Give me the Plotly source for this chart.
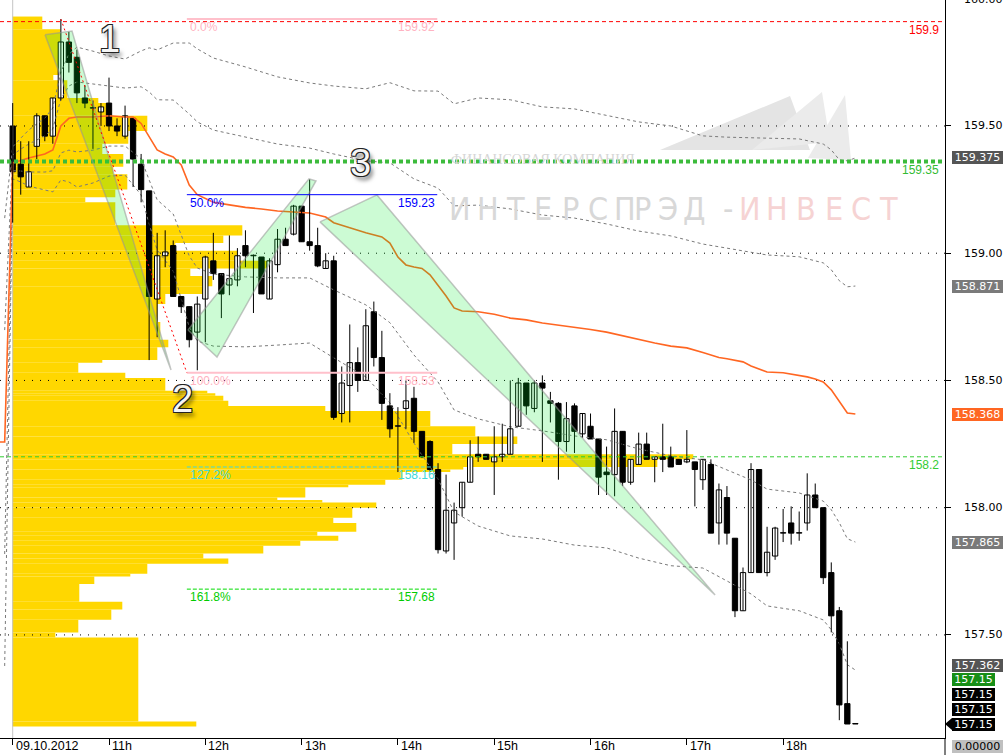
import plotly.graph_objects as go

# ---------------- data ----------------
hour_ticks = [0, 12, 24, 36, 48, 60, 72, 84, 96]
hour_labels = ["09.10.2012", "11h", "12h", "13h", "14h", "15h", "16h", "17h", "18h"]
price_ticks = [157.5, 158.0, 158.5, 159.0, 159.5]
price_labels = ["157.50", "158.00", "158.50", "159.00", "159.50"]
top_label = "160.00"

opens = [159.50,159.35,159.26,159.42,159.54,159.46,159.61,159.83,159.77,159.61,
159.57,159.555,159.59,159.50,159.46,159.53,159.35,159.245,158.82,158.99,
159.03,158.83,158.79,158.69,158.82,158.97,158.92,158.875,158.895,159.03,
158.99,158.985,158.82,158.955,159.055,159.075,159.185,159.045,159.03,158.94,
158.97,158.37,158.48,158.57,158.50,158.77,158.59,158.40,158.32,158.39,
158.43,158.30,158.26,158.15,157.83,157.94,158.00,158.10,158.21,158.21,
158.18,158.20,158.21,158.32,158.49,158.39,158.49,158.42,158.41,158.26,
158.40,158.29,158.32,158.27,158.14,158.13,158.30,158.10,158.17,158.25,
158.19,158.20,158.20,158.19,158.18,158.18,158.11,158.17,157.94,158.04,
157.88,157.595,157.745,158.15,157.745,157.81,157.90,157.94,157.90,157.94,
158.05,158.00,157.745,157.595,157.23,157.15]
highs = [159.59,159.44,159.44,159.55,159.54,159.61,159.92,159.87,159.80,159.66,
159.60,159.59,159.69,159.53,159.58,159.53,159.39,159.245,159.08,159.09,
159.05,158.83,158.79,158.83,158.99,159.08,158.92,159.07,159.02,159.09,
158.995,158.985,158.98,159.095,159.10,159.19,159.185,159.29,159.10,159.00,
158.99,158.555,158.72,158.63,158.78,158.81,158.695,158.45,158.395,158.50,
158.475,158.30,158.265,158.175,158.13,158.02,158.10,158.265,158.28,158.21,
158.32,158.33,158.50,158.51,158.49,158.50,158.52,158.455,158.415,158.415,
158.41,158.37,158.37,158.27,158.24,158.39,158.30,158.19,158.295,158.295,
158.20,158.33,158.24,158.19,158.305,158.18,158.19,158.19,158.095,158.085,
157.88,157.765,158.175,158.15,157.925,157.925,157.995,158.005,157.985,158.135,
158.095,158.00,157.785,157.61,157.475,157.15]
lows = [159.12,159.23,159.26,159.37,159.44,159.43,159.60,159.71,159.59,159.57,
159.41,159.50,159.48,159.46,159.45,159.26,159.20,158.58,158.67,158.945,
158.83,158.765,158.63,158.54,158.65,158.895,158.745,158.835,158.87,158.945,
158.765,158.84,158.82,158.925,159.03,159.07,159.045,159.01,158.945,158.94,
158.345,158.335,158.335,158.455,158.50,158.555,158.345,158.275,158.14,158.31,
158.255,158.195,158.14,157.82,157.82,157.795,157.965,158.10,158.18,158.19,
158.05,158.18,158.21,158.32,158.365,158.375,158.18,158.335,158.11,158.22,
158.215,158.275,158.27,158.05,158.05,158.045,158.085,158.09,158.17,158.19,
158.10,158.14,158.16,158.17,158.175,158.005,158.07,157.90,157.855,157.855,
157.57,157.595,157.745,157.745,157.73,157.795,157.865,157.855,157.87,157.91,
158.00,157.70,157.51,157.165,157.15,157.15]
closes = [159.32,159.30,159.32,159.54,159.46,159.61,159.83,159.75,159.63,159.59,
159.57,159.575,159.50,159.48,159.54,159.37,159.25,158.83,158.99,159.005,
158.83,158.79,158.66,158.80,158.985,158.92,158.84,158.90,158.99,158.99,
158.99,158.84,158.97,159.055,159.03,159.185,159.045,159.03,158.95,158.97,
158.355,158.49,158.57,158.50,158.715,158.59,158.41,158.31,158.32,158.42,
158.30,158.20,158.15,157.835,157.99,157.99,158.10,158.20,158.20,158.19,
158.20,158.21,158.31,158.49,158.40,158.49,158.47,158.41,158.26,158.35,
158.30,158.37,158.27,158.12,158.13,158.30,158.10,158.19,158.25,158.19,
158.20,158.19,158.16,158.17,158.19,158.15,158.19,157.90,158.07,157.90,
157.595,157.745,158.15,157.745,157.825,157.92,157.90,157.90,157.90,158.05,
158.00,157.725,157.575,157.225,157.15,157.15]

# session average (orange) line
vwap_x = [-2,-1,0,1,2,3,4,5,6,7,8,10,12,14,15,16,17,18,19,20,21,22,23,25,27,29,31,33,35,37,
          39,40,42,44,46,47,48,49,50,51,52,53,54,55,56,58,60,62,64,66,68,70,72,74,76,78,80,82,84,86,
          88,89,90,91,92,93,94,96,98,99,100,101,102,103,104,105]
vwap_y = [158.258,158.258,159.355,159.366,159.374,159.382,159.39,159.406,159.50,159.53,
          159.535,159.535,159.54,159.535,159.535,159.51,159.46,159.406,159.39,159.378,
          159.347,159.268,159.23,159.20,159.19,159.18,159.174,159.166,159.162,159.158,
          159.142,159.12,159.10,159.08,159.064,159.04,158.985,158.954,158.946,158.94,
          158.915,158.875,158.832,158.785,158.773,158.77,158.76,158.745,158.738,158.726,
          158.718,158.71,158.70,158.69,158.675,158.66,158.647,158.635,158.628,158.61,
          158.59,158.585,158.58,158.573,158.557,158.545,158.533,158.53,158.52,158.514,
          158.506,158.494,158.463,158.416,158.372,158.368]

# deviation bands (gray dashed)
band_x = [-1,0,1,2,3,4,5,6,7,8,10,12,14,16,17,18,20,22,23,25,29,33,37,40,44,47,50,53,55,58,
          62,66,70,74,78,82,86,89,92,94,98,101,102,103,104,105]
band_up2 = [159.138,159.418,159.452,159.484,159.508,159.531,159.571,159.712,159.782,159.810,
            159.794,159.775,159.763,159.795,159.807,159.799,159.826,159.826,159.803,159.767,
            159.732,159.693,159.669,159.657,159.646,159.670,159.638,159.637,159.587,159.610,
            159.603,159.575,159.567,159.540,159.516,159.500,159.461,159.456,159.453,159.452,
            159.449,159.429,159.406,159.367,159.363,159.374]
band_up1 = [158.698,159.386,159.409,159.429,159.445,159.461,159.489,159.606,159.657,159.673,
            159.665,159.657,159.649,159.654,159.634,159.603,159.602,159.547,159.516,159.484,
            159.457,159.429,159.413,159.390,159.363,159.355,159.292,159.256,159.186,159.189,
            159.174,159.150,159.138,159.115,159.087,159.068,159.036,159.020,159.005,158.993,
            158.986,158.962,158.935,158.892,158.868,158.871]
band_dn1 = [157.818,159.324,159.323,159.319,159.319,159.319,159.324,159.394,159.405,159.398,
            159.405,159.421,159.421,159.371,159.288,159.210,159.154,158.989,158.942,158.918,
            158.907,158.903,158.903,158.856,158.797,158.727,158.600,158.494,158.384,158.349,
            158.318,158.302,158.282,158.267,158.231,158.204,158.188,158.148,158.109,158.073,
            158.058,158.026,157.992,157.941,157.878,157.865]
band_dn2 = [157.378,159.292,159.280,159.264,159.256,159.249,159.241,159.288,159.280,159.260,
            159.276,159.303,159.307,159.229,159.115,159.013,158.930,158.710,158.655,158.635,
            158.632,158.639,158.647,158.589,158.514,158.412,158.254,158.113,157.983,157.928,
            157.889,157.877,157.853,157.842,157.802,157.772,157.763,157.712,157.661,157.614,
            157.595,157.559,157.520,157.465,157.383,157.362]

# volume profile: row edges (price, top to bottom) and volume per row
prof_edges = [159.93,159.88,159.70,159.68,159.61,159.59,159.54,159.48,159.43,159.39,
              159.34,159.31,159.25,159.22,159.20,159.11,159.07,159.04,159.01,158.97,
              158.94,158.91,158.87,158.84,158.80,158.73,158.66,158.63,158.58,158.57,
              158.53,158.51,158.46,158.45,158.44,158.42,158.40,158.38,158.32,158.28,
              158.25,158.21,158.19,158.16,158.15,158.14,158.11,158.09,158.08,158.04,
              158.03,158.02,158.00,157.96,157.94,157.905,157.89,157.87,157.85,157.82,
              157.80,157.78,157.74,157.73,157.70,157.63,157.60,157.56,157.51,157.49,
              157.16,157.14]
prof_vol = [30,48,41,55,86,96,135,116,90,111,
            101,115,103,73,103,230,211,163,225,256,
            178,200,195,153,145,148,156,145,90,66,
            113,153,195,203,211,216,313,418,463,505,
            440,681,645,451,438,390,373,336,293,265,
            310,364,340,321,344,305,326,288,251,191,
            216,135,118,82,67,110,99,66,43,126,184]

# Fibonacci drawing
fib_x = [21.7, 52.9]
fib_levels = [159.92, 159.23, 158.53, 158.16, 157.68]
fib_names = ["0.0%", "50.0%", "100.0%", "127.2%", "161.8%"]
fib_texts = ["159.92", "159.23", "158.53", "158.16", "157.68"]
trend_x = [6, 21.7]
trend_y = [159.92, 158.53]

# horizontal levels
hline_prices = [159.91, 159.36, 158.20]
hline_labels = ["159.9", "159.35", "158.2"]

# wave wedges
wedge1_x = [4.02, 7.39, 19.73]
wedge1_y = [159.858, 159.873, 158.541]
wedge2_x = [21.84, 25.46, 37.79, 36.92]
wedge2_y = [158.698, 158.592, 159.284, 159.292]
wedge3_x = [38.29, 45.39, 87.52]
wedge3_y = [159.123, 159.229, 157.657]
wave_labels = ["1", "2", "3"]
wave_x = [12.12, 21.1, 43.3]
wave_y = [159.842, 158.427, 159.355]

# right axis price flags
flag_text = ["159.375", "158.871", "158.368", "157.865", "157.362", "157.15", "157.15", "157.15", "157.15"]
flag_price = [159.375, 158.871, 158.368, 157.865, 157.362, 157.15, 157.15, 157.15, 157.15]
last_price = 157.15

# ---------------- figure ----------------
X_RANGE = [-1.583, 116.17]
Y_RANGE = [157.095, 159.995]
PLOT_W, PLOT_H = 945, 738

fig = go.Figure()

# volume profile on base axis (drawn underneath everything)
centers = [(prof_edges[k] + prof_edges[k + 1]) / 2 for k in range(len(prof_vol))]
heights = [prof_edges[k] - prof_edges[k + 1] for k in range(len(prof_vol))]
fig.add_trace(go.Bar(orientation="h", y=centers, x=prof_vol, width=heights, base=0,
                     marker=dict(color="#FFD700", line=dict(width=0)),
                     xaxis="x", yaxis="y", hoverinfo="skip"))

def line(x, y, color, width=1, dash=None, **kw):
    fig.add_trace(go.Scatter(x=x, y=y, mode="lines", xaxis="x2", yaxis="y",
                             line=dict(color=color, width=width, dash=dash),
                             hoverinfo="skip", **kw))

# dotted grid
for p in price_ticks:
    line(X_RANGE, [p, p], "black", 1, "1px,7px")
# day separator
line([0, 0], Y_RANGE, "#c4c4c4", 1)

# bands and session average
for b in (band_up2, band_up1, band_dn1, band_dn2):
    line(band_x, b, "#7a7a7a", 1, "3px,3px")
line(vwap_x, vwap_y, "#FF6622", 1.6)

# candles
idx = list(range(len(opens)))
wx, wy = [], []
for i in idx:
    wx += [i, i, None]
    wy += [lows[i], highs[i], None]
line(wx, wy, "black", 1)
up = [i for i in idx if closes[i] >= opens[i]]
dn = [i for i in idx if closes[i] < opens[i]]
for sel, fill in ((up, "white"), (dn, "black")):
    fig.add_trace(go.Bar(x=sel, base=[min(opens[i], closes[i]) for i in sel],
                         y=[max(abs(closes[i] - opens[i]), 0.002) for i in sel],
                         width=0.66, marker=dict(color=fill, line=dict(color="black", width=1)),
                         xaxis="x2", yaxis="y", hoverinfo="skip"))

# horizontal levels
line(X_RANGE, [hline_prices[0]] * 2, "#FF0000", 1, "4px,3px")
line(X_RANGE, [hline_prices[1]] * 2, "#3CBB3C", 4, "4px,3px")
line(X_RANGE, [hline_prices[2]] * 2, "#33CC33", 1, "4px,3px")

# wedges
for wx_, wy_ in ((wedge1_x, wedge1_y), (wedge2_x, wedge2_y), (wedge3_x, wedge3_y)):
    fig.add_trace(go.Scatter(x=wx_ + wx_[:1], y=wy_ + wy_[:1], mode="lines", fill="toself",
                             fillcolor="rgba(0,235,40,0.2)",
                             line=dict(color="rgba(150,150,150,0.55)", width=1.5),
                             xaxis="x2", yaxis="y", hoverinfo="skip"))

# Fibonacci lines
fib_styles = [("#FFC0CB", 2, None), ("#0000FF", 1, None), ("#FFC0CB", 2, None),
              ("#40D8D8", 1, "4px,2px"), ("#00DD00", 1, "4px,2px")]
fib_label_colors = ["#FFB3C1", "#0000FF", "#FFB3C1", "#40D8D8", "#00CC00"]
for lv, (c, w, d) in zip(fib_levels, fib_styles):
    line(fib_x, [lv, lv], c, w, d)
line(trend_x, trend_y, "#FF0000", 1, "2px,3px")

ann = []
LBL = dict(family="Liberation Sans, Arial, sans-serif", size=12)
for lv, nm, tx, col in zip(fib_levels, fib_names, fib_texts, fib_label_colors):
    ann.append(dict(x=fib_x[0], y=lv, xref="x2", yref="y", text=nm, showarrow=False,
                    xanchor="left", yanchor="middle", yshift=-8, xshift=1, font=dict(LBL, color=col)))
    ann.append(dict(x=fib_x[1], y=lv, xref="x2", yref="y", text=tx, showarrow=False,
                    xanchor="right", yanchor="middle", yshift=-8, font=dict(LBL, color=col)))
for p, t, col in zip(hline_prices, hline_labels, ["#FF0000", "#33BB33", "#33CC33"]):
    ann.append(dict(x=1, y=p, xref="paper", yref="y", text=t, showarrow=False,
                    xanchor="right", yanchor="middle", xshift=-4, yshift=-8, font=dict(LBL, color=col)))

# wave numbers
outline = ("-1px -1px 0 #222, 1px -1px 0 #222, -1px 1px 0 #222, 1px 1px 0 #222, "
           "3px 4px 4px rgba(0,0,0,0.55)")
for t, x, y in zip(wave_labels, wave_x, wave_y):
    ann.append(dict(x=x, y=y, xref="x2", yref="y", text=t, showarrow=False,
                    font=dict(family="Liberation Sans, Arial, sans-serif", size=38,
                              color="#f6f6f6", shadow=outline)))

# watermark (decoration, canvas pixel positions)
def px(xp, yp):
    return xp / PLOT_W, 1 - yp / PLOT_H
wx0, wy0 = px(542.5, 150)
ann.append(dict(x=wx0, y=wy0, xref="paper", yref="paper", text="ФИНАНСОВАЯ КОМПАНИЯ",
                showarrow=False, font=dict(family="Liberation Serif, serif", size=14, color="#d6d6d6")))
word = "ИНТЕРСПРЭД-ИНВЕСТ"
for k, ch in enumerate(word):
    xx, yy = px(460 + 27.5 * k, 188)
    ann.append(dict(x=xx, y=yy, xref="paper", yref="paper", text=ch, showarrow=False,
                    font=dict(family="Liberation Sans Narrow, DejaVu Sans Condensed, Liberation Sans",
                              size=32, color="#d8d8d8" if k < 11 else "#f6d3d3")))

# right axis labels
AX = dict(family="DejaVu Sans, Verdana, sans-serif", size=11)
for p, t in zip(price_ticks, price_labels):
    ann.append(dict(x=1, y=p, xref="paper", yref="y", text=t, showarrow=False,
                    xanchor="left", yanchor="middle", xshift=17, font=dict(AX, color="black")))
ann.append(dict(x=1, y=1, xref="paper", yref="paper", text=top_label, showarrow=False,
                xanchor="left", yanchor="middle", xshift=17, yshift=1, font=dict(AX, color="black")))
flag_bg = ["#555555", "#7a7a7a", "#FF6622", "#7a7a7a", "#555555", "#178f17", "black", "black", "black"]
flag_shift = [0, 0, 0, 0, 5, 45, 30, 15, 0]
flag_w = [49, 49, 49, 49, 49, 41, 41, 41, 41]
for t, p, bg, ys, w in zip(flag_text, flag_price, flag_bg, flag_shift, flag_w):
    ann.append(dict(x=1, y=p, xref="paper", yref="y", text=t, showarrow=False,
                    xanchor="left", yanchor="middle", xshift=7, yshift=ys, width=w, height=11,
                    borderpad=1, borderwidth=0, bgcolor=bg, align="center",
                    font=dict(AX, color="white")))
ann.append(dict(x=1, y=0, xref="paper", yref="paper", text="0.00000", showarrow=False,
                xanchor="left", yanchor="middle", xshift=7, yshift=-8, width=49, height=11,
                borderpad=1, borderwidth=0, bgcolor="#c0c0c0", align="center",
                font=dict(AX, color="black")))

# time labels
for t, lab in zip(hour_ticks, hour_labels):
    ann.append(dict(x=t, y=0, xref="x2", yref="paper", text=lab, showarrow=False,
                    xanchor="left", yanchor="top", xshift=1, yshift=1,
                    font=dict(family="Liberation Sans Narrow, Arial Narrow, Liberation Sans, sans-serif",
                              size=12.5, color="black")))

# shapes: logo, last-price arrow, axis extension
shapes = []
def ppath(pts):
    s = ""
    for k, (a, b) in enumerate(pts):
        xx, yy = px(a, b)
        s += ("M" if k == 0 else "L") + f"{xx:.4f},{yy:.4f} "
    return s + "Z"
for pts, col in (([(660, 150), (790, 96), (810, 150)], "#e4e4e4"),
                 ([(752, 150), (822, 92), (830, 142)], "#ebebeb"),
                 ([(808, 158), (845, 95), (851, 160)], "#ebebeb")):
    shapes.append(dict(type="path", xref="paper", yref="paper", path=ppath(pts),
                       fillcolor=col, line=dict(width=0), layer="below"))
ah = (Y_RANGE[1] - Y_RANGE[0]) / PLOT_H * 6
shapes.append(dict(type="path", xref="paper", yref="y",
                   path=f"M1,{last_price} L{1 + 7 / PLOT_W:.4f},{last_price + ah:.4f} "
                        f"L{1 + 7 / PLOT_W:.4f},{last_price - ah:.4f} Z",
                   fillcolor="black", line=dict(width=0)))
shapes.append(dict(type="line", xref="paper", yref="paper", x0=1, x1=1, y0=-17 / PLOT_H, y1=0,
                   line=dict(color="black", width=1)))

fig.update_layout(
    width=1005, height=755, autosize=False,
    margin=dict(l=0, r=60, t=0, b=17),
    paper_bgcolor="white", plot_bgcolor="white",
    showlegend=False, barmode="overlay", hovermode=False,
    xaxis=dict(range=[-12.3, 932.7], visible=False, fixedrange=True),
    xaxis2=dict(range=X_RANGE, overlaying="x", anchor="y", side="bottom",
                showgrid=False, zeroline=False, showline=True, linecolor="black", linewidth=1,
                ticks="outside", ticklen=6, tickcolor="black", tickvals=hour_ticks,
                showticklabels=False, fixedrange=True),
    yaxis=dict(range=Y_RANGE, side="right", showgrid=False, zeroline=False,
               showline=True, linecolor="black", linewidth=1, ticks="outside", ticklen=5,
               tickcolor="black", tickvals=price_ticks, showticklabels=False, fixedrange=True),
    annotations=ann, shapes=shapes,
)

fig.write_html("out.html", config={"displayModeBar": False},
               post_script="document.body.style.margin='0';document.body.style.overflow='hidden';")
